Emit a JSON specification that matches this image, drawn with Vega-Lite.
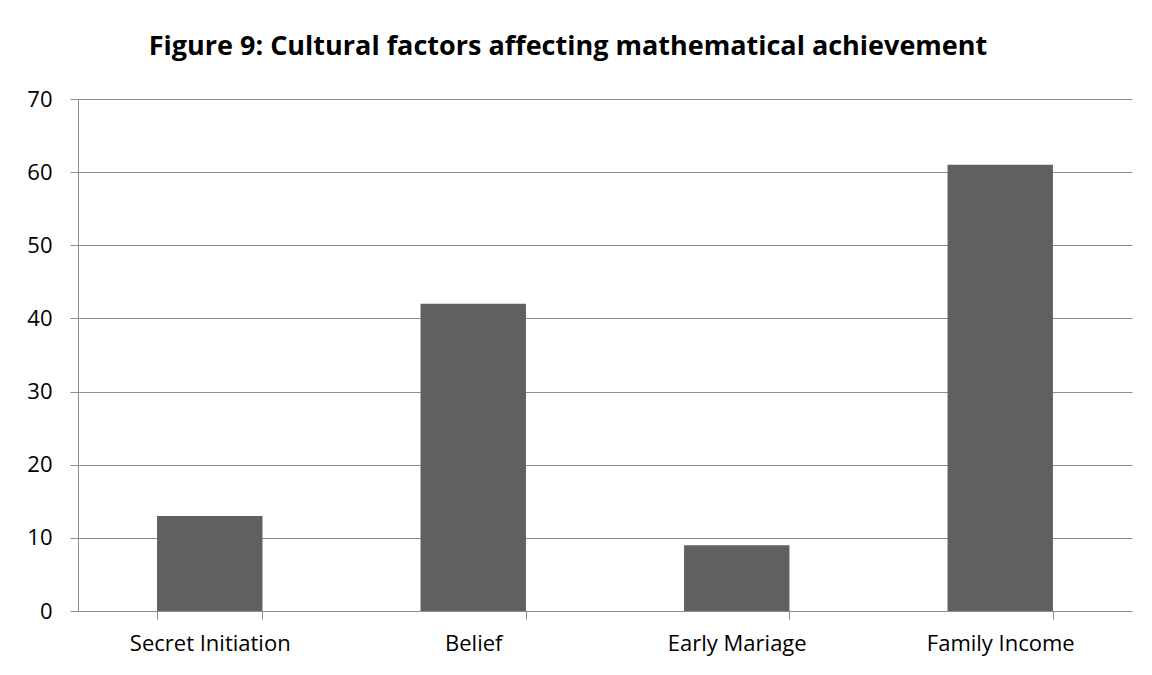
{
  "$schema": "https://vega.github.io/schema/vega-lite/v6.json",
  "width": 1054,
  "height": 512,
  "autosize": "none",
  "padding": {"left": 78, "top": 99, "right": 20, "bottom": 64},
  "background": "white",
  "title": {
    "text": "Figure 9: Cultural factors affecting mathematical achievement",
    "font": "Open Sans",
    "fontSize": 27,
    "fontWeight": "bold",
    "color": "#000000",
    "anchor": "middle",
    "offset": 27,
    "dx": -37
  },
  "data": {
    "values": [
      {"factor": "Secret Initiation", "value": 13},
      {"factor": "Belief", "value": 42},
      {"factor": "Early Mariage", "value": 9},
      {"factor": "Family Income", "value": 61}
    ]
  },
  "mark": {"type": "bar", "color": "#606060"},
  "encoding": {
    "x": {
      "field": "factor",
      "type": "nominal",
      "sort": null,
      "scale": {"paddingInner": 0.6, "paddingOuter": 0.3},
      "axis": {
        "title": null,
        "labelAngle": 0,
        "labelFont": "Open Sans",
        "labelFontSize": 22,
        "labelColor": "#000000",
        "labelPadding": 14,
        "tickBand": "extent",
        "tickSize": 8,
        "tickColor": "#8c8c8c",
        "domainColor": "#8c8c8c",
        "grid": false
      }
    },
    "y": {
      "field": "value",
      "type": "quantitative",
      "scale": {"domain": [0, 70], "nice": false},
      "axis": {
        "title": null,
        "values": [0, 10, 20, 30, 40, 50, 60, 70],
        "labelFont": "Open Sans",
        "labelFontSize": 22,
        "labelColor": "#000000",
        "labelPadding": 18,
        "tickSize": 8,
        "tickColor": "#8c8c8c",
        "domainColor": "#8c8c8c",
        "gridColor": "#8c8c8c",
        "gridOpacity": 1
      }
    }
  },
  "config": {"view": {"stroke": null}}
}
